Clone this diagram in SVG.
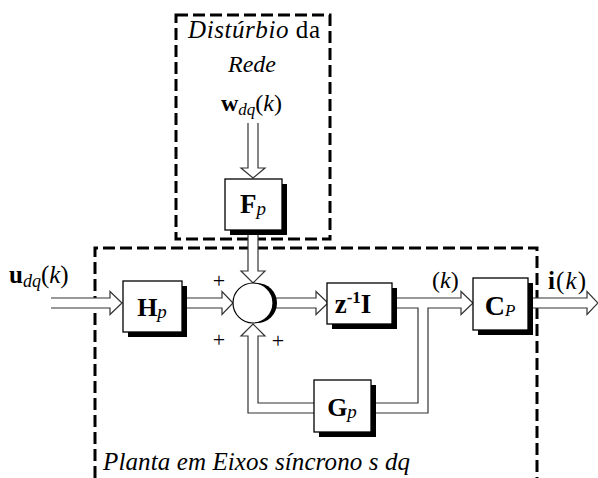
<svg xmlns="http://www.w3.org/2000/svg" width="598" height="478" viewBox="0 0 598 478">
<style>
text{font-family:"Liberation Serif","Times New Roman",serif;fill:#000}
.dash{fill:none;stroke:#000;stroke-width:3;stroke-dasharray:12 5}
.box{fill:#fff;stroke:#000;stroke-width:1.3}
.sh{fill:#000}
.arr{fill:#fff;stroke:#333;stroke-width:1.2}
.ln{fill:none;stroke:#333;stroke-width:1.2}
.b{font-weight:bold}
.i{font-style:italic}
</style>
<rect width="598" height="478" fill="#fff"/>
<g id="frames">
<rect class="dash" x="176" y="15" width="154" height="224"/>
<path class="dash" d="M95,478 V248 H537 V478"/>
</g>
<g id="connectors">
<path class="arr" d="M248,123 V168 H241 L253,178 L265,168 H258 V123"/>
<path class="arr" d="M248,234 V271 H241 L253,283 L265,271 H258 V234"/>
<path class="arr" d="M51,298 H110 V291.5 L122,303 L110,314.5 V308 H51"/>
<path class="arr" d="M187,298 H222 V291.5 L233,303 L222,314.5 V308 H187"/>
<path class="arr" d="M273,298 H316 V291.5 L328,303 L316,314.5 V308 H273"/>
<path class="arr" d="M397,298 H461 V291.5 L473,303 L461,314.5 V308 H428 V413 H371"/>
<path class="ln" d="M397,308 H418 V403 H371"/>
<path class="arr" d="M314,403 H258 V336 H265 L253,324 L241,336 H248 V413 H314"/>
<path class="arr" d="M533,298 H587 V291.5 L598,303 L587,314.5 V308 H533"/>
</g>
<g id="sum">
<circle cx="257" cy="303" r="20" class="sh"/>
<circle cx="253" cy="303" r="20" fill="#fff" stroke="#000" stroke-width="1.2"/>
<text x="219" y="288" font-size="22" text-anchor="middle">+</text>
<text x="219" y="347" font-size="22" text-anchor="middle">+</text>
<text x="278" y="348" font-size="22" text-anchor="middle">+</text>
</g>
<g id="Fp">
<rect class="sh" x="230" y="184" width="57" height="51"/>
<rect class="box" x="225" y="179" width="57" height="51"/>
<text x="253" y="213" font-size="27" text-anchor="middle"><tspan class="b">F</tspan><tspan class="i" font-size="19" dy="2">p</tspan></text>
</g>
<g id="Hp">
<rect class="sh" x="128" y="286" width="59" height="51"/>
<rect class="box" x="123" y="281" width="59" height="51"/>
<text x="152" y="316" font-size="26" text-anchor="middle"><tspan class="b">H</tspan><tspan class="i" font-size="19" dy="2">p</tspan></text>
</g>
<g id="z">
<rect class="sh" x="332" y="288" width="65" height="41"/>
<rect class="box" x="327" y="283" width="65" height="41"/>
<text x="353" y="313" font-size="27" text-anchor="middle" class="b">z<tspan font-size="17" dy="-10">-1</tspan><tspan dy="10">I</tspan></text>
</g>
<g id="Cp">
<rect class="sh" x="478" y="283" width="55" height="52"/>
<rect class="box" x="473" y="278" width="55" height="52"/>
<text x="500" y="315" font-size="28" text-anchor="middle"><tspan class="b">C</tspan><tspan class="i" font-size="17" dy="1">P</tspan></text>
</g>
<g id="Gp">
<rect class="sh" x="319" y="385" width="57" height="52"/>
<rect class="box" x="314" y="380" width="57" height="52"/>
<text x="342" y="416" font-size="26" text-anchor="middle"><tspan class="b">G</tspan><tspan class="i" font-size="19" dy="2">p</tspan></text>
</g>
<g id="labels">
<text x="188" y="38" font-size="25" textLength="132" lengthAdjust="spacing"><tspan class="i">Distúrbio</tspan> da</text>
<text x="252" y="72" font-size="24" text-anchor="middle" class="i">Rede</text>
<text x="221" y="111" font-size="24"><tspan class="b">w</tspan><tspan class="i" font-size="17" dy="4">dq</tspan><tspan dy="-4">(</tspan><tspan class="i">k</tspan>)</text>
<text x="9" y="283" font-size="25"><tspan class="b">u</tspan><tspan class="i" font-size="18" dy="4">dq</tspan><tspan dy="-4">(</tspan><tspan class="i">k</tspan>)</text>
<text x="432" y="288" font-size="24">(<tspan class="i">k</tspan>)</text>
<text x="548" y="289" font-size="25" textLength="38" lengthAdjust="spacing"><tspan class="b">i</tspan>(<tspan class="i">k</tspan>)</text>
<text x="103" y="470" font-size="25" textLength="307" lengthAdjust="spacing" class="i">Planta em Eixos síncrono s dq</text>
</g>
</svg>
